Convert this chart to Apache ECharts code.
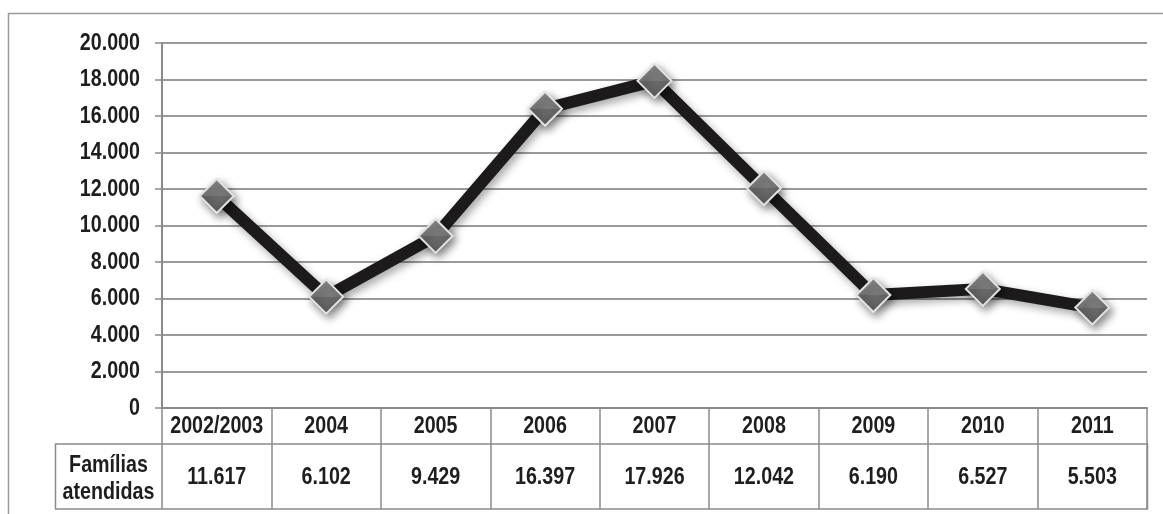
<!DOCTYPE html>
<html>
<head>
<meta charset="utf-8">
<script src="https://cdn.jsdelivr.net/npm/echarts@6/dist/echarts.min.js"></script>
<style>
  html, body { margin: 0; padding: 0; background: #fff; }
  #chart { width: 1163px; height: 514px; }
</style>
</head>
<body>
<div id="chart"></div>
<script>
// Famílias atendidas por ano
const categories = ['2002/2003', '2004', '2005', '2006', '2007', '2008', '2009', '2010', '2011'];
const familias = [11617, 6102, 9429, 16397, 17926, 12042, 6190, 6527, 5503];
const yTicks = [0, 2000, 4000, 6000, 8000, 10000, 12000, 14000, 16000, 18000, 20000];
const rowTitle = ['Famílias', 'atendidas'];

// thousands separator with a dot
function fmt(v) {
  return String(v).replace(/\B(?=(\d{3})+(?!\d))/g, '.');
}

// narrow bold face: Liberation Sans Bold squeezed horizontally
const FONT = 'bold 24px "Liberation Sans", Arial, sans-serif';
const SQUEEZE = 0.82;
const GRID_COLOR = '#9a9a9a';
const AXIS_COLOR = '#8a8a8a';
const TEXT_COLOR = '#1e1e1e';

const chart = echarts.init(document.getElementById('chart'), null, { renderer: 'canvas' });

const frame = [
  // outer frame
  {
    type: 'rect', id: 'frame', silent: true,
    shape: { x: 8.5, y: 13.5, width: 1180, height: 540 },
    style: { fill: 'none', stroke: '#9a9a9a', lineWidth: 1.5 }
  },
  // data row frame
  {
    type: 'rect', id: 'rowFrame', silent: true,
    shape: { x: 55.5, y: 444, width: 1092, height: 65 },
    style: { fill: 'none', stroke: AXIS_COLOR, lineWidth: 1.5 }
  }
];

chart.setOption({
  backgroundColor: '#fff',
  animation: false,
  grid: { left: 162, right: 16, top: 43, bottom: 106, containLabel: false },
  xAxis: {
    type: 'category',
    data: categories,
    boundaryGap: true,
    axisLine: { show: true, lineStyle: { color: AXIS_COLOR, width: 2 } },
    axisTick: { show: true, length: 101, lineStyle: { color: AXIS_COLOR, width: 1.5 } },
    axisLabel: { show: false },
    splitLine: { show: false }
  },
  yAxis: {
    type: 'value',
    min: yTicks[0],
    max: yTicks[yTicks.length - 1],
    interval: yTicks[1] - yTicks[0],
    axisLine: { show: true, lineStyle: { color: AXIS_COLOR, width: 2 } },
    axisTick: { show: true, length: 7, lineStyle: { color: AXIS_COLOR, width: 1.5 } },
    axisLabel: { show: false },
    splitLine: { show: true, lineStyle: { color: GRID_COLOR, width: 2 } }
  },
  series: [
    {
      type: 'line',
      data: familias,
      symbol: 'diamond',
      symbolSize: [34, 34],
      lineStyle: {
        color: '#1c1a1a', width: 12,
        shadowColor: 'rgba(0,0,0,0.35)', shadowBlur: 8, shadowOffsetX: 3, shadowOffsetY: 4
      },
      itemStyle: {
        color: {
          type: 'linear', x: 0, y: 0, x2: 0, y2: 1,
          colorStops: [
            { offset: 0, color: '#8e8e8e' },
            { offset: 0.5, color: '#7a7a7a' },
            { offset: 0.5, color: '#6a6a6a' },
            { offset: 1, color: '#5e5e5e' }
          ]
        },
        borderColor: '#e2e2e2',
        borderWidth: 2,
        shadowColor: 'rgba(0,0,0,0.45)', shadowBlur: 8, shadowOffsetX: 3, shadowOffsetY: 4
      },
      z: 3
    }
  ],
  graphic: frame
});

// labels placed from the axes' own scales
function label(id, x, y, text, align) {
  return {
    type: 'text', id: id, silent: true, x: x, y: y, scaleX: SQUEEZE,
    style: { x: 0, y: 0, text: text, align: align, verticalAlign: 'middle', font: FONT, fill: TEXT_COLOR }
  };
}

const texts = [];
yTicks.forEach((v, i) => {
  const py = chart.convertToPixel({ yAxisIndex: 0 }, v);
  texts.push(label('y' + i, 140, py, fmt(v), 'right'));
});
categories.forEach((c, i) => {
  const px = chart.convertToPixel({ xAxisIndex: 0 }, i);
  texts.push(label('c' + i, px, 426.5, c, 'center'));
  texts.push(label('v' + i, px, 477.5, fmt(familias[i]), 'center'));
});
rowTitle.forEach((t, i) => {
  texts.push(label('t' + i, 108.5, 465 + i * 27, t, 'center'));
});

chart.setOption({ graphic: frame.concat(texts) });
</script>
</body>
</html>
